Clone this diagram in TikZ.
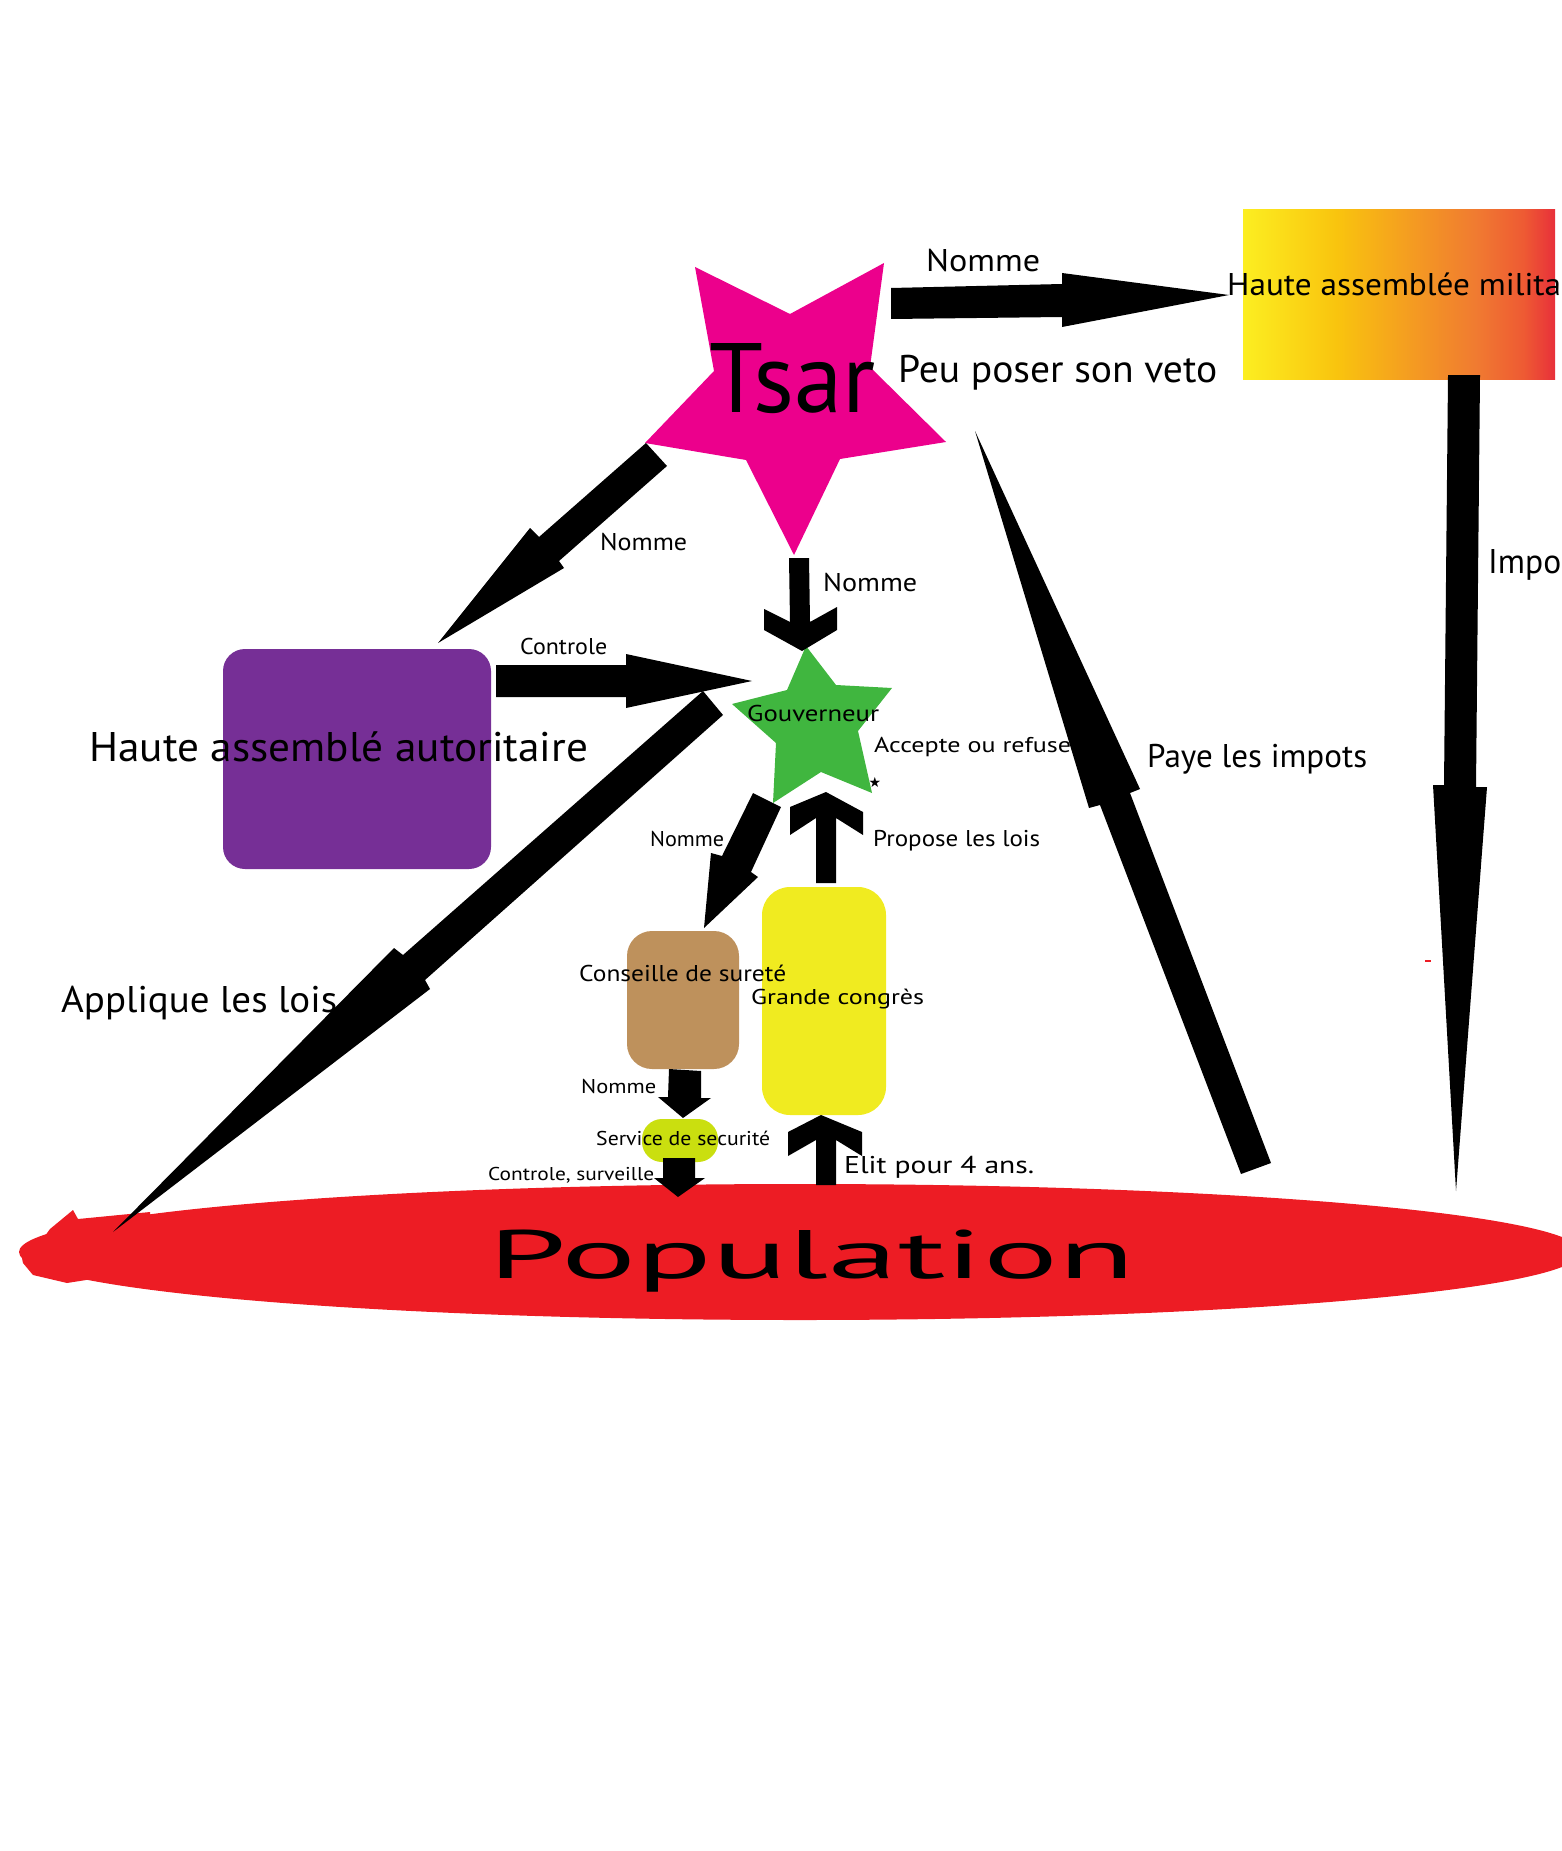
\documentclass[tikz,border=0pt]{standalone}
\usepackage{fontspec}
\setmainfont{PT Sans}
\newfontfamily\symfont{DejaVu Sans}
\usepackage{graphicx}
\usetikzlibrary{shapes.geometric}
\definecolor{tsarpink}{HTML}{EC008C}
\definecolor{haapurple}{HTML}{762F96}
\definecolor{govgreen}{HTML}{40B63F}
\definecolor{brownbox}{HTML}{BE915C}
\definecolor{congyellow}{HTML}{F0EB20}
\definecolor{servlime}{HTML}{CADF0F}
\definecolor{popred}{HTML}{ED1C24}
\definecolor{ga}{HTML}{FCEE21}
\definecolor{gb}{HTML}{F9C40E}
\definecolor{gc}{HTML}{F49A22}
\definecolor{gd}{HTML}{F07A31}
\definecolor{ge}{HTML}{EE5A33}
\definecolor{gf}{HTML}{E8303A}
\pgfdeclarehorizontalshading{milgrad}{100bp}{color(0bp)=(ga); color(25bp)=(ga); color(40bp)=(gb); color(52.5bp)=(gc); color(62.5bp)=(gd); color(70bp)=(ge); color(75bp)=(gf); color(100bp)=(gf)}
\newlength\lblw
\newcommand\lbl[3]{\begingroup\pgfmathsetmacro\lblfs{#1/0.7}\fontsize{\lblfs pt}{\lblfs pt}\selectfont\settowidth\lblw{#3}\pgfmathsetmacro\lblsx{#2/\lblw}\scalebox{\lblsx}[1]{#3}\endgroup}
\begin{document}
\begin{tikzpicture}[x=1pt,y=-1pt,
  txt/.style={inner sep=0pt, anchor=base west},
  arrowshape/.style={fill=black},
  box/.style={inner sep=0pt, draw=none}]
\useasboundingbox (0,0) rectangle (1562,1851);
\clip (0,0) rectangle (1562,1851);

% Population
\node[box, ellipse, fill=popred, minimum width=1562, minimum height=136] (pop) at (800,1252) {};
\fill[popred] (21,1253) -- (37,1247) -- (50,1229) -- (73,1210) -- (78,1219) -- (150,1212) -- (150,1270) -- (67,1283) -- (33,1275) -- (23,1263) -- cycle;

% boxes
\node[box, shading=milgrad, minimum width=312, minimum height=169] (ham) at (1399,294.5) {};
\node[box, fill=haapurple, rounded corners=22, minimum width=268, minimum height=220] (haa) at (357,759) {};
\node[box, fill=brownbox, rounded corners=25, minimum width=112, minimum height=138] (cons) at (683,1000) {};
\node[box, fill=congyellow, rounded corners=28, minimum width=124, minimum height=228] (cong) at (824,1001) {};
\node[box, fill=servlime, rounded corners=20, minimum width=76, minimum height=43] (serv) at (680,1140.5) {};
\fill[popred] (1425,960) rectangle (1431,962);

% stars
\coordinate (tsar) at (795,410);
\fill[tsarpink] (695,267) -- (790,314) -- (884,263) -- (870,367) -- (946,442) -- (840,459) -- (794,555) -- (746,460) -- (645,443) -- (714,371) -- cycle;
\coordinate (gouv) at (812,730);
\fill[govgreen] (806,646) -- (836,685) -- (892,688) -- (858,731) -- (872,793) -- (821,772) -- (773,803) -- (776,743) -- (732,704) -- (787,690) -- cycle;

% arrows
% Tsar -> Haute assemblee militaire
\fill[arrowshape] (891,288) -- (1062,284) -- (1062,273) -- (1229,295) -- (1062,327) -- (1062,317) -- (891,319) -- cycle;
% Tsar -> Haute assemble autoritaire
\fill[arrowshape] (646,443) -- (539,537) -- (530,528) -- (438,643) -- (564,568) -- (559,561) -- (667,466) -- cycle;
% Tsar -> Gouverneur
\fill[arrowshape] (789,558) -- (809,558) -- (810,622) -- (837,607) -- (837,630) -- (802,651) -- (764,630) -- (764,609) -- (790,622) -- cycle;
% HAA -> Gouverneur (Controle)
\fill[arrowshape] (496,665) -- (626,665) -- (626,654) -- (752,681) -- (626,708) -- (626,697) -- (496,697) -- cycle;
% Gouverneur -> Population (Applique les lois)
\fill[arrowshape] (703,691) -- (403,955) -- (394,948) -- (113,1232) -- (430,989) -- (425,980) -- (723,715) -- cycle;
% Gouverneur -> Conseille
\fill[arrowshape] (753,793) -- (722,856) -- (711,853) -- (704,928) -- (758,877) -- (751,872) -- (781,807) -- cycle;
% Grande congres -> Gouverneur
\fill[arrowshape] (816,883) -- (816,818) -- (790,835) -- (790,807) -- (826,792) -- (863,812) -- (863,835) -- (836,818) -- (836,883) -- cycle;
% Conseille -> Service
\fill[arrowshape] (669,1069) -- (668,1097) -- (658,1097) -- (683,1118) -- (711,1098) -- (701,1098) -- (701,1071) -- cycle;
% Service -> Population
\fill[arrowshape] (663,1158) -- (663,1178) -- (654,1178) -- (678,1197) -- (705,1178) -- (695,1178) -- (695,1158) -- cycle;
% Population -> Grande congres
\fill[arrowshape] (816,1185) -- (816,1140) -- (788,1156) -- (788,1132) -- (821,1115) -- (862,1132) -- (862,1156) -- (836,1140) -- (836,1185) -- cycle;
% Population -> Tsar (Paye les impots)
\fill[arrowshape] (1241,1174) -- (1100,805) -- (1089,808) -- (975,431) -- (1140,789) -- (1130,793) -- (1271,1163) -- cycle;
% Haute assemblee militaire -> Population
\fill[arrowshape] (1448,375) -- (1444,785) -- (1433,785) -- (1456,1191) -- (1487,787) -- (1476,787) -- (1480,375) -- cycle;

% texts
\node[txt] (tTsar) at (709,412) {\lbl{69}{166}{Tsar}};
\node[txt] (tNom1) at (926,272) {\lbl{22}{114}{Nomme}};
\node[txt] (tVeto) at (898,382) {\lbl{27}{319}{Peu poser son veto}};
\node[txt] (tMil) at (1227,296) {\lbl{22}{334}{Haute assemblée milita}};
\node[txt] (tNom2) at (600,550) {\lbl{17}{87}{Nomme}};
\node[txt] (tNom3) at (823,591) {\lbl{18}{94}{Nomme}};
\node[txt] (tCtl) at (520,654) {\lbl{16}{87}{Controle}};
\node[txt] (tHaa) at (89,761) {\lbl{29}{499}{Haute assemblé autoritaire}};
\node[txt] (tGouv) at (747,721) {\lbl{16}{132}{Gouverneur}};
\node[txt] (tAcc) at (874,752) {\lbl{15}{197}{Accepte ou refuse}};
\node[inner sep=0pt] (tStar) at (875,782) {\symfont\fontsize{14}{14}\selectfont ★};
\node[txt] (tProp) at (873,846) {\lbl{16}{167}{Propose les lois}};
\node[txt] (tNom4) at (650,846) {\lbl{15}{74}{Nomme}};
\node[txt] (tPaye) at (1147,767) {\lbl{23}{220}{Paye les impots}};
\node[txt] (tImpo) at (1488,573) {\lbl{24}{73}{Impo}};
\node[txt] (tAppl) at (61,1012) {\lbl{26}{276}{Applique les lois}};
\node[txt] (tCons) at (579,981) {\lbl{16}{207}{Conseille de sureté}};
\node[txt] (tCong) at (751,1004) {\lbl{15}{173}{Grande congrès}};
\node[txt] (tNom5) at (581,1093) {\lbl{14}{75}{Nomme}};
\node[txt] (tServ) at (596,1145) {\lbl{14}{174}{Service de securité}};
\node[txt] (tSurv) at (488,1180) {\lbl{13}{166}{Controle, surveille}};
\node[txt] (tElit) at (844,1173) {\lbl{17}{190}{Elit pour 4 ans.}};
\node[txt] (tPop) at (488,1278) {\lbl{48}{647}{Population}};
\end{tikzpicture}
\end{document}
